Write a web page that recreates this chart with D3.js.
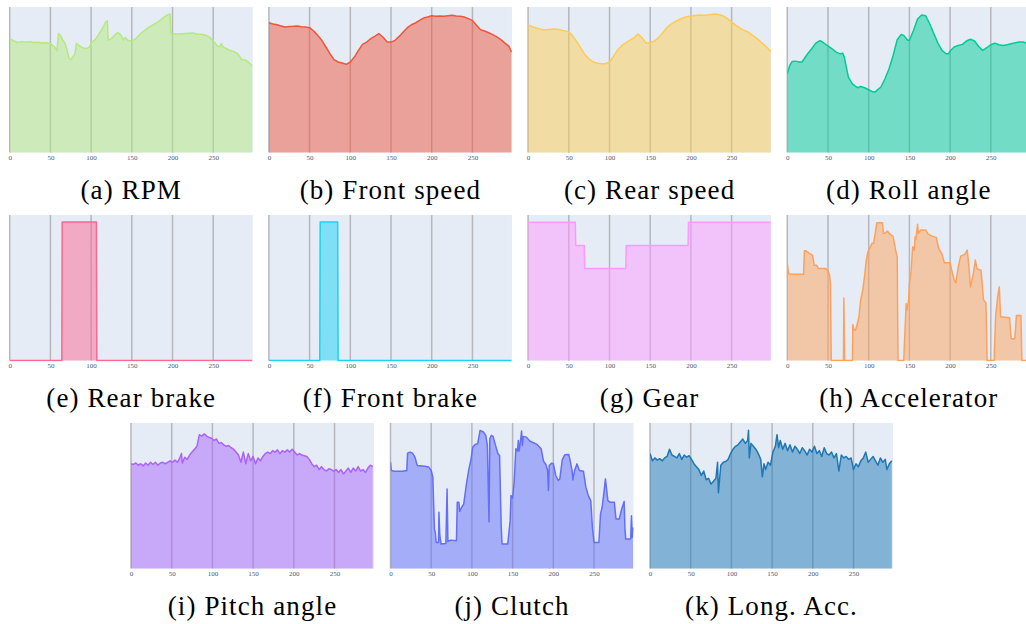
<!DOCTYPE html>
<html>
<head>
<meta charset="utf-8">
<script src="https://cdn.jsdelivr.net/npm/d3@7"></script>
<style>
  body { margin: 0; background: #fff; }
  svg { display: block; }
</style>
</head>
<body>
<svg id="fig" width="1026" height="624"></svg>
<script>
// ---- shared axis settings ----
const xTicks = [0, 50, 100, 150, 200, 250];
const xMax = 298.5;

const captions = [
  "(a) RPM", "(b) Front speed", "(c) Rear speed", "(d) Roll angle",
  "(e) Rear brake", "(f) Front brake", "(g) Gear", "(h) Accelerator",
  "(i) Pitch angle", "(j) Clutch", "(k) Long. Acc."
];

const colors = [
  "#B6E880", "#EF553B", "#FECB52", "#00CC96",
  "#FF6692", "#19D3F3", "#FF97FF", "#FFA15A",
  "#AB63FA", "#636EFA", "#1F77B4"
];

// ---- signals: [time step, value] (values in % of channel range unless noted) ----
const rpm = [[0,78.3],[5,76.7],[10,75.6],[15,76.2],[20,75.8],[25,76.1],[30,75.6],[35,75.8],[40,75.3],[45,75.4],[50,74.9],[55,72.6],[58,69.9],[60,81.7],[62,80.6],[65,77.6],[68,74.9],[70,71.5],[73,64.6],[75,63.9],[78,65.8],[80,67.6],[82,74.9],[85,73.7],[90,71.9],[95,71.5],[98,72.6],[100,75.3],[105,77.6],[110,81.7],[115,86.3],[118,89.7],[120,90.4],[121,77.2],[125,78.3],[130,81.3],[133,82.4],[136,81.1],[140,77.2],[142,79.0],[145,77.2],[150,76.5],[155,78.3],[160,81.3],[165,83.6],[170,85.8],[175,87.4],[180,89.0],[185,90.9],[190,93.2],[195,95.0],[197,95.0],[198,81.7],[200,81.7],[205,81.4],[210,81.5],[215,81.8],[220,82.0],[225,82.2],[230,81.5],[235,81.2],[240,80.8],[245,79.5],[250,76.7],[255,73.3],[258,72.6],[260,74.9],[262,72.6],[266,71.5],[270,70.3],[275,69.5],[280,68.0],[285,63.9],[290,63.5],[295,61.2],[298,59.4]];

const frontSpeed = [[0,89.2],[5,88.3],[10,87.8],[15,87.0],[20,86.2],[25,86.6],[30,86.7],[35,86.9],[40,86.5],[45,86.2],[50,85.8],[55,83.5],[60,80.5],[65,77.1],[70,72.5],[75,67.9],[80,63.8],[85,62.2],[90,61.5],[95,60.6],[100,62.2],[105,65.6],[110,70.2],[115,74.3],[120,75.9],[125,78.2],[130,79.8],[135,81.7],[140,79.4],[145,76.1],[150,75.9],[155,77.1],[160,79.8],[165,82.8],[170,85.8],[175,87.8],[180,89.0],[185,90.8],[190,92.4],[195,93.1],[200,94.0],[205,93.6],[210,93.8],[215,93.7],[220,94.0],[225,94.3],[230,93.8],[235,93.6],[240,93.1],[245,92.0],[250,90.8],[255,87.4],[260,84.4],[265,83.5],[270,82.3],[275,81.0],[280,79.4],[285,77.6],[290,75.2],[295,72.9],[298,69.0]];

const rearSpeed = [[0,87.7],[5,86.5],[10,85.6],[15,84.8],[20,84.2],[25,84.6],[30,84.9],[35,84.7],[40,84.2],[45,83.6],[50,82.9],[55,80.0],[60,76.0],[65,71.5],[70,67.1],[75,64.2],[80,62.3],[85,61.4],[90,61.0],[95,61.0],[100,62.3],[105,66.0],[110,70.5],[115,73.4],[120,75.3],[125,77.2],[130,78.8],[135,81.5],[140,78.8],[145,75.3],[150,75.3],[155,76.6],[160,78.8],[165,82.0],[170,85.6],[175,87.9],[180,89.7],[185,91.2],[190,92.5],[195,93.3],[200,93.8],[205,94.2],[210,94.5],[215,94.4],[220,94.5],[225,94.9],[230,95.2],[235,94.7],[240,93.8],[245,92.0],[250,89.7],[255,87.5],[260,85.6],[265,84.0],[270,82.9],[275,80.9],[280,78.8],[285,76.5],[290,74.0],[295,71.5],[298,69.2]];

const rollAngle = [[0,54.1],[3,59.9],[6,62.6],[10,62.8],[15,62.2],[18,62.2],[25,67.9],[30,71.3],[35,75.2],[40,76.8],[43,76.1],[50,73.2],[55,71.3],[60,69.0],[63,68.3],[65,67.9],[68,68.3],[70,65.6],[75,51.8],[80,47.2],[85,45.0],[87,44.5],[90,45.4],[95,44.5],[100,43.1],[105,41.7],[108,41.5],[110,42.7],[115,45.0],[120,50.7],[125,57.6],[130,66.7],[135,77.5],[140,81.2],[143,80.5],[148,77.1],[150,77.1],[155,83.9],[160,91.7],[165,94.5],[170,94.0],[175,88.3],[180,81.7],[185,75.2],[190,70.2],[195,67.9],[198,67.9],[200,69.7],[205,72.5],[210,73.6],[215,74.3],[220,76.6],[225,77.8],[230,76.6],[235,72.9],[240,70.2],[245,72.0],[250,74.1],[255,75.2],[260,74.1],[265,73.6],[270,74.1],[275,74.8],[280,75.5],[285,75.9],[290,75.9],[293,75.2],[298,75.0]];

// brake switches (0 = off, 1 = on)
const rearBrake = [[0,0],[64,0],[64.5,1],[106.5,1],[107,0],[298,0]];
const frontBrake = [[0,0],[62.5,0],[63,1],[84.5,1],[85,0],[298,0]];

// engaged gear number
const gear = [[0,6],[58,6],[58.5,5],[69,5],[69.5,4],[120,4],[120.5,5],[196.5,5],[197,6],[298,6]];

const accelerator = [[0,66.7],[1,62.1],[2,59.3],[20,59.3],[21,75.4],[23,75.4],[27,73.6],[31,72.4],[33,65.5],[36,65.5],[38,63.2],[47,63.2],[50,61.6],[52,58.6],[53,52.9],[54,0],[69,0],[69.5,43],[70.5,0],[80,0],[80.5,24.8],[82,20.7],[84,21.1],[86,25.3],[88,29.9],[90,41.4],[93,49.4],[95,58.6],[97,69],[99,74.7],[101,77],[104,80.5],[106,80.5],[108,87.4],[110,94.7],[117,94.7],[118,87.4],[120,87.4],[123,89],[125,87.4],[130,85.1],[133,75.9],[135,71.3],[136,0],[143,0],[146,39.1],[147,34.5],[149,41.4],[150,52.9],[152,60.9],[154,78.2],[156,75.9],[157,85.1],[158,83.3],[160,93.6],[161,87.4],[164,89.7],[170,89.7],[173,86.9],[178,85.5],[183,84.6],[186,77],[190,73.1],[193,67.1],[200,67.1],[202,62.1],[205,55.2],[207,53.3],[210,64.4],[213,71.7],[218,72.9],[221,75.9],[223,65],[225,50.6],[228,58],[231,69],[233,63],[238,62],[241,41.8],[244,39.5],[245.5,0],[254,0],[256,31],[258.4,43.7],[260.4,50.6],[262,30],[273,29.4],[275,15],[279.5,15],[281.5,31],[287,31],[288.2,0],[298,0]];

const pitchAngle = [[0,72],[3,71.5],[6,72.5],[9,71],[12,72],[15,70.5],[18,72.5],[21,71],[24,73],[27,71.5],[30,73],[33,71],[36,72.5],[39,73],[42,72],[45,73],[48,74],[51,73],[54,74.5],[57,73],[60,76],[62,79],[63,72.5],[66,76.5],[69,75],[72,78],[75,80],[78,82],[81,84],[84,92],[87,91],[90,92.5],[93,91],[96,90],[99,89.5],[102,88],[105,89],[108,86],[111,86.5],[114,85],[117,84],[120,84.5],[123,83],[126,82],[129,80],[132,78],[135,73],[138,80],[141,72],[144,79],[147,74],[150,77],[153,72],[156,76],[159,74],[162,77],[165,79],[168,80],[171,79],[174,81],[177,80],[180,81.5],[183,79],[186,81],[189,80],[192,81.5],[195,80],[198,82],[201,80],[204,78],[207,79],[210,78],[213,77.5],[216,77],[219,75],[222,72],[225,70],[228,71],[231,68],[234,70],[237,68],[240,67],[243,68.5],[246,68],[249,67],[252,68],[255,66],[258,68],[261,65],[264,67],[267,69],[270,66],[273,69],[276,67],[279,70],[282,67],[285,68],[288,66],[291,69],[294,71],[297,70]];

const clutch = [[0,73.1],[1,67.4],[5,66.9],[15,66.9],[20,67.4],[21,79.3],[24,80.0],[27,79.3],[30,76.6],[32,72.4],[33,70.8],[42,70.3],[47,69.7],[50,67.4],[52,62.8],[53,44.4],[54,27.1],[55,24.8],[56,17.9],[59,17.9],[59.5,38.6],[60.5,23.7],[62,16.8],[68,17.2],[69.5,54.7],[70.5,18.6],[74,19.5],[81,19.1],[82,45.5],[84,45.5],[85,39.3],[87,41.6],[90,44.4],[93,57.0],[96,67.4],[99,75.4],[101,83.4],[104,85.3],[107,85.7],[109,91.5],[110,94.9],[114,93.8],[117,91.5],[119,84.6],[121,32.2],[122,89.2],[124,91.5],[126,90.8],[129,84.6],[132,78.9],[134,77.7],[136,28.3],[137,16.8],[144,16.8],[147,32.9],[148,50.1],[150,48.3],[152,60.5],[154,82.3],[156,80.7],[157,88.0],[158,80.7],[160,89.2],[161,94.5],[162,84.6],[163,90.8],[167,90.3],[171,87.6],[180,85.3],[185,82.3],[188,73.8],[191,71.3],[193,67.4],[194,53.6],[195,70.8],[198,72.4],[200,72.0],[203,63.9],[206,60.5],[208,61.6],[211,74.7],[214,78.2],[219,78.4],[221,73.1],[223,67.4],[224,60.9],[226,67.1],[229,71.9],[232,67.4],[237,66.9],[240,55.9],[243,50.1],[246,46.7],[248,28.3],[250,17.9],[256,17.9],[258,37.5],[260,42.1],[262,51.3],[264,61.6],[267,46.7],[270,45.5],[275,45.5],[277,34.0],[281,34.0],[284,40.9],[287,46.0],[288,27.1],[289,20.2],[295,20.2],[296,36.3],[297,21.4],[298,28.3]];

const longAcc = [[0,79],[3,74],[6,76],[9,74.5],[12,75.5],[15,74],[18,76],[21,77],[24,82],[27,78],[30,77],[33,76],[36,79],[39,75],[42,78],[45,76.5],[48,77.5],[51,75],[54,72],[57,70],[60,68],[63,64],[66,67],[69,61],[72,62],[75,58],[78,60],[81,62],[83,73],[84,52],[87,71],[90,73],[93,73.5],[96,75],[99,79],[102,82],[105,84],[108,85],[111,87],[114,89],[117,86],[120,88],[121,95],[122,76],[124,86],[127,84],[130,82],[133,79],[136,75],[138,63],[140,72],[142,68],[145,73],[148,71],[151,80],[154,84],[156,92],[158,83],[160,88],[163,82],[166,86],[169,81],[172,85],[175,80],[178,84],[181,82],[184,79],[187,83],[190,81],[193,78],[196,82],[199,80],[202,84],[205,79],[208,81],[211,77],[214,83],[217,79],[220,78],[223,80],[226,76],[229,79],[232,67],[235,78],[238,76],[241,77],[244,75],[247,76],[250,68],[253,72],[256,70],[259,74],[262,76],[265,80],[268,73],[271,75],[274,77],[277,74],[280,71],[283,76],[286,73],[289,75],[291,68],[294,72],[297,74]];

// ---- channel table ----
const series = [rpm, frontSpeed, rearSpeed, rollAngle, rearBrake, frontBrake, gear, accelerator, pitchAngle, clutch, longAcc];
const yMaxes = [100, 100, 100, 100, 1.05, 1.05, 6.32, 100, 100, 100, 100];

// ---- layout ----
const PW = 243, PH = 145.5;
const rowTops = [7, 215, 423];
function panelOrigin(i) {
  if (i < 8) return [9.7 + (i % 4) * 259.2, rowTops[Math.floor(i / 4)]];
  return [131 + (i - 8) * 259.5, rowTops[2]];
}

const svg = d3.select("#fig");
const x = d3.scaleLinear().domain([0, xMax]).range([0, PW]);

series.forEach((data, i) => {
  const [ox, oy] = panelOrigin(i);
  const y = d3.scaleLinear().domain([0, yMaxes[i]]).range([PH, 0]);
  const g = svg.append("g").attr("transform", `translate(${ox},${oy})`);

  const clipId = "clip" + i;
  g.append("clipPath").attr("id", clipId)
    .append("rect").attr("x", 0).attr("y", -2).attr("width", PW).attr("height", PH + 3);

  g.append("rect").attr("width", PW).attr("height", PH).attr("fill", "#E5ECF6");

  // vertical grid
  g.selectAll("line.grid").data(xTicks).join("line")
    .attr("class", "grid")
    .attr("x1", d => x(d)).attr("x2", d => x(d))
    .attr("y1", 0).attr("y2", PH)
    .attr("stroke", "#b6b7bd").attr("stroke-width", 1.5);

  const plot = g.append("g").attr("clip-path", `url(#${clipId})`);
  const area = d3.area().x(d => x(d[0])).y0(y(0)).y1(d => y(d[1]));
  const line = d3.line().x(d => x(d[0])).y(d => y(d[1]));

  plot.append("path").datum(data).attr("d", area)
    .attr("fill", colors[i]).attr("fill-opacity", 0.5);
  plot.append("path").datum(data).attr("d", line)
    .attr("fill", "none").attr("stroke", colors[i])
    .attr("stroke-width", 1.5).attr("stroke-linejoin", "round");

  // x axis labels
  const ax = g.append("g").attr("transform", `translate(0,${PH})`)
    .call(d3.axisBottom(x).tickValues(xTicks).tickSize(0).tickPadding(3));
  ax.select(".domain").remove();
  ax.selectAll("text")
    .attr("font-family", "Liberation Serif, serif")
    .attr("font-size", 7)
    .attr("fill", "#4a5878");

  // caption
  svg.append("text")
    .attr("x", ox + PW / 2).attr("y", oy + PH + 46.5)
    .attr("text-anchor", "middle")
    .attr("font-family", "Liberation Serif, serif")
    .attr("font-size", 27)
    .attr("letter-spacing", 1.1)
    .attr("fill", "#000")
    .text(captions[i]);
});
</script>
</body>
</html>
